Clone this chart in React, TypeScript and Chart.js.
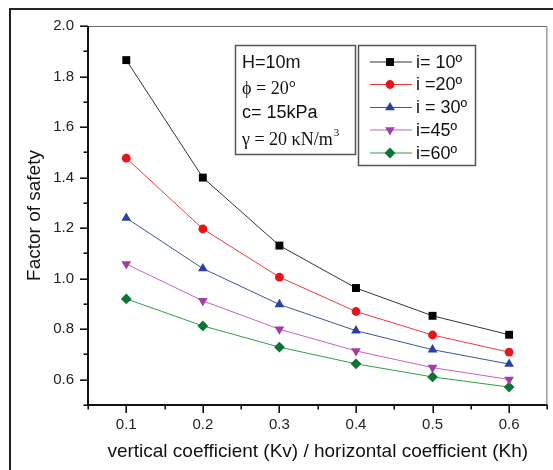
import React, { useEffect, useRef } from "react";
import { Chart, registerables } from "chart.js";

Chart.register(...registerables);

const kValues = [0.1, 0.2, 0.3, 0.4, 0.5, 0.6];
const fsI10 = [1.865, 1.4, 1.131, 0.963, 0.853, 0.778];
const fsI20 = [1.477, 1.197, 1.006, 0.87, 0.777, 0.709];
const fsI30 = [1.24, 1.04, 0.898, 0.794, 0.719, 0.662];
const fsI45 = [1.058, 0.912, 0.8, 0.714, 0.648, 0.601];
const fsI60 = [0.92, 0.813, 0.729, 0.663, 0.611, 0.571];

const seriesLabels = ["i= 10º", "i =20º", "i = 30º", "i=45º", "i=60º"];
const seriesValues = [fsI10, fsI20, fsI30, fsI45, fsI60];
const lineColors = ["#333333", "#f23a3a", "#4050b0", "#c860c0", "#30a040"];
const markerColors = ["#000000", "#e8141c", "#2c40a0", "#a43ca4", "#0a7434"];
const markerStyles = ["rect", "circle", "triangle", "triangle", "rectRot"];
const markerRotations = [0, 0, 0, 180, 0];
const markerRadii = [5.6, 4.4, 5.6, 5.6, 5.4];

const annotationLines = ["H=10m", "ϕ = 20°", "c= 15kPa", "γ = 20 κN/m"];

const xTitle = "vertical coefficient (Kv) / horizontal coefficient (Kh)";
const yTitle = "Factor of safety";

const SANS = "'Liberation Sans', Arial, sans-serif";
const SERIF = "'Liberation Serif', 'Times New Roman', serif";

function drawMarker(ctx: CanvasRenderingContext2D, i: number, x: number, y: number) {
  const r = markerRadii[i];
  ctx.save();
  ctx.fillStyle = markerColors[i];
  ctx.beginPath();
  const st = markerStyles[i];
  if (st === "rect") {
    const s = Math.SQRT1_2 * r;
    ctx.rect(x - s, y - s, 2 * s, 2 * s);
  } else if (st === "circle") {
    ctx.arc(x, y, r, 0, Math.PI * 2);
  } else if (st === "triangle") {
    let rad = (markerRotations[i] * Math.PI) / 180;
    ctx.moveTo(x + Math.sin(rad) * r, y - Math.cos(rad) * r);
    rad += (2 * Math.PI) / 3;
    ctx.lineTo(x + Math.sin(rad) * r, y - Math.cos(rad) * r);
    rad += (2 * Math.PI) / 3;
    ctx.lineTo(x + Math.sin(rad) * r, y - Math.cos(rad) * r);
    ctx.closePath();
  } else {
    ctx.moveTo(x, y - r);
    ctx.lineTo(x + r, y);
    ctx.lineTo(x, y + r);
    ctx.lineTo(x - r, y);
    ctx.closePath();
  }
  ctx.fill();
  ctx.restore();
}

const framePlugin = {
  id: "framePlugin",
  beforeDatasetsDraw(chart: any) {
    const { ctx, chartArea } = chart;
    const { left, right, top, bottom } = chartArea;
    const xs = chart.scales.x;
    const ys = chart.scales.y;
    ctx.save();
    ctx.strokeStyle = "#6a6a6a";
    ctx.lineWidth = 1;
    ctx.beginPath();
    ctx.moveTo(left, top + 0.5);
    ctx.lineTo(right - 0.5, top + 0.5);
    ctx.lineTo(right - 0.5, bottom);
    ctx.stroke();
    ctx.strokeStyle = "#111";
    ctx.lineWidth = 1.6;
    ys.ticks.forEach((t: any) => {
      const major = Math.round(t.value * 10) % 2 === 0 && t.value > 0.55;
      const py = Math.round(ys.getPixelForValue(t.value)) + 0.2;
      ctx.beginPath();
      ctx.moveTo(left, py);
      ctx.lineTo(left - (major ? 8 : 4.5), py);
      ctx.stroke();
    });
    xs.ticks.forEach((t: any) => {
      const major = Math.round(t.value * 100) % 10 === 0;
      const px = Math.round(xs.getPixelForValue(t.value)) + 0.2;
      ctx.beginPath();
      ctx.moveTo(px, bottom);
      ctx.lineTo(px, bottom + (major ? 8 : 4.5));
      ctx.stroke();
    });
    ctx.strokeStyle = "#111";
    ctx.lineWidth = 2;
    ctx.beginPath();
    ctx.moveTo(left, top);
    ctx.lineTo(left, bottom);
    ctx.lineTo(right, bottom);
    ctx.stroke();
    ctx.restore();
  },
  afterDraw(chart: any) {
    const ctx: CanvasRenderingContext2D = chart.ctx;
    ctx.save();
    ctx.strokeStyle = "#222";
    ctx.lineWidth = 2;
    ctx.beginPath();
    ctx.moveTo(10, 470);
    ctx.lineTo(10, 9);
    ctx.lineTo(553, 9);
    ctx.stroke();

    ctx.strokeStyle = "#555";
    ctx.lineWidth = 1.5;
    ctx.strokeRect(235.5, 45.5, 120, 109);
    ctx.fillStyle = "#111";
    ctx.textBaseline = "middle";
    ctx.textAlign = "left";
    ctx.font = `18px ${SANS}`;
    ctx.fillText(annotationLines[0], 242, 63);
    ctx.font = `18px ${SERIF}`;
    ctx.fillText(annotationLines[1], 242, 89);
    ctx.font = `18px ${SANS}`;
    ctx.fillText(annotationLines[2], 242, 113);
    ctx.font = `18px ${SERIF}`;
    ctx.fillText(annotationLines[3], 242, 140);
    const w = ctx.measureText(annotationLines[3]).width;
    ctx.font = `11px ${SERIF}`;
    ctx.fillText("3", 242 + w + 1, 133);

    ctx.strokeStyle = "#555";
    ctx.lineWidth = 1.5;
    ctx.strokeRect(358.5, 45.5, 117, 120);
    const rows = [62, 84.5, 107.5, 130, 153];
    seriesLabels.forEach((lab, i) => {
      const y = rows[i];
      ctx.strokeStyle = lineColors[i];
      ctx.lineWidth = 1;
      ctx.beginPath();
      ctx.moveTo(370, y);
      ctx.lineTo(412, y);
      ctx.stroke();
      drawMarker(ctx, i, 390, y);
      ctx.fillStyle = "#111";
      ctx.font = `18px ${SANS}`;
      ctx.textBaseline = "middle";
      ctx.fillText(lab, 416, y + 1);
    });
    ctx.restore();
  },
};

export default function App() {
  const canvasRef = useRef<HTMLCanvasElement | null>(null);

  useEffect(() => {
    if (!canvasRef.current) return;
    Chart.defaults.font.family = SANS;
    const datasets = seriesValues.map((vals, i) => ({
      label: seriesLabels[i],
      data: kValues.map((k, j) => ({ x: k, y: vals[j] })),
      borderColor: lineColors[i],
      backgroundColor: markerColors[i],
      pointBackgroundColor: markerColors[i],
      pointBorderColor: markerColors[i],
      pointBorderWidth: 0,
      borderWidth: 1,
      pointStyle: markerStyles[i] as any,
      pointRotation: markerRotations[i],
      pointRadius: markerRadii[i],
      pointHoverRadius: markerRadii[i],
      tension: 0,
      clip: false as any,
    }));
    const chart = new Chart(canvasRef.current, {
      type: "line",
      data: { datasets },
      plugins: [framePlugin],
      options: {
        animation: false,
        responsive: false,
        devicePixelRatio: 1,
        layout: { padding: { left: 0, top: 26, right: 1, bottom: 0 } },
        plugins: { legend: { display: false }, tooltip: { enabled: false } },
        scales: {
          x: {
            type: "linear",
            min: 0.05,
            max: 0.65,
            afterFit: (s: any) => {
              s.height = 65;
            },
            ticks: {
              stepSize: 0.05,
              autoSkip: false,
              maxRotation: 0,
              padding: 3,
              color: "#222",
              font: { size: 15, family: SANS },
              callback: (v: any) => (Math.round(Number(v) * 100) % 10 === 0 ? Number(v).toFixed(1) : ""),
            },
            grid: { display: true, drawOnChartArea: false, color: "rgba(0,0,0,0)", tickLength: 8 },
            border: { display: false },
            title: {
              display: true,
              text: xTitle,
              color: "#111",
              font: { size: 19, family: SANS },
              padding: { top: 0, bottom: 7 },
            },
          },
          y: {
            type: "linear",
            min: 0.5,
            max: 2.0,
            afterFit: (s: any) => {
              s.width = 88;
            },
            ticks: {
              stepSize: 0.1,
              autoSkip: false,
              padding: 6,
              color: "#222",
              font: { size: 15, family: SANS },
              callback: (v: any) => {
                const n = Number(v);
                return Math.round(n * 10) % 2 === 0 && n > 0.55 ? n.toFixed(1) : "";
              },
            },
            grid: { display: true, drawOnChartArea: false, color: "rgba(0,0,0,0)", tickLength: 8 },
            border: { display: false },
            title: {
              display: true,
              text: yTitle,
              color: "#111",
              font: { size: 19, family: SANS },
              padding: { top: 23, bottom: 0 },
            },
          },
        },
      },
    });
    return () => chart.destroy();
  }, []);

  return (
    <div style={{ position: "absolute", left: 0, top: 0, width: 553, height: 470, background: "#fff" }}>
      <canvas ref={canvasRef} width={553} height={470} style={{ display: "block" }} />
    </div>
  );
}
